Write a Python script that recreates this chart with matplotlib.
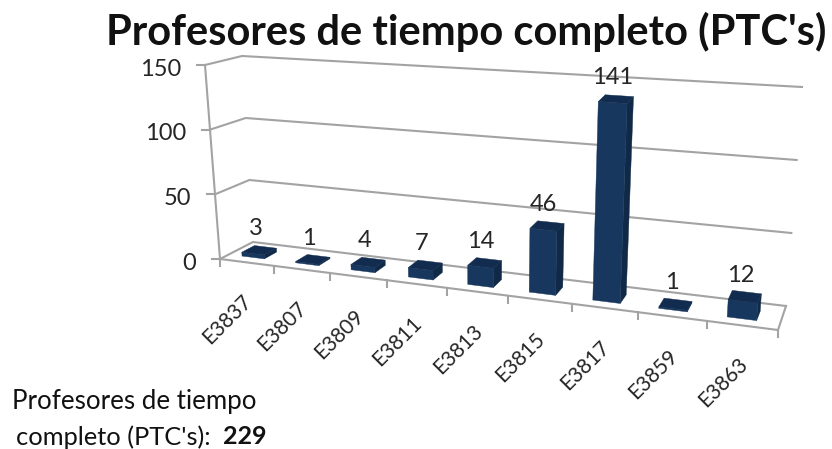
"""Skewed 3D-look column chart of full-time professors per school code."""

import matplotlib
matplotlib.use("Agg")
import matplotlib.pyplot as plt
import numpy as np
from matplotlib.patches import Polygon

# ---------------------------------------------------------------------------
# Data
# ---------------------------------------------------------------------------

CODES = ["E3837", "E3807", "E3809", "E3811", "E3813", "E3815", "E3817", "E3859", "E3863"]
VALUES = [3, 1, 4, 7, 14, 46, 141, 1, 12]
Y_TICKS = [0, 50, 100, 150]
TITLE = "Profesores de tiempo completo (PTC's)"
NOTE_1 = "Profesores de tiempo"
NOTE_2 = "completo (PTC's):"
NOTE_TOTAL = "229"

# ---------------------------------------------------------------------------
# Style / projection
# ---------------------------------------------------------------------------

W, H = 832, 449
Y_MAX = 150
FONT = "Lato"
GRID = "#a3a3a3"
FRONT = "#17375e"
SIDE = "#0f2947"
TOP = "#122c4f"
TEXT = "#262626"

# box corners on screen: (left/right, floor/top, front/back)
CORNERS = {
    (0, 0, 0): (220, 259), (0, 1, 0): (205, 65),
    (0, 0, 1): (253, 242), (0, 1, 1): (242, 56),
    (1, 0, 0): (778, 330), (1, 1, 0): (794, 108),
    (1, 0, 1): (786, 306), (1, 1, 1): (802, 87),
}
PERSPECTIVE = 1.17
BAR_SPAN = (0.25, 0.67)
DEPTH_SPAN = (0.27, 0.66)


def project(cat, value, depth):
    """Category position, value and depth (0 front, 1 back) to pixels."""
    t = cat / len(CODES)
    u = t / (PERSPECTIVE - (PERSPECTIVE - 1) * t)
    v = value / Y_MAX
    out = np.zeros(2)
    for (a, b, c), xy in CORNERS.items():
        weight = (u if a else 1 - u) * (v if b else 1 - v) * (depth if c else 1 - depth)
        out += weight * np.array(xy, dtype=float)
    return out


def draw_frame(ax):
    n = len(CODES)
    for tick in Y_TICKS:
        pts = [project(0, tick, 0), project(0, tick, 1), project(n, tick, 1)]
        ax.plot(*zip(*pts), color=GRID, lw=1.5, zorder=1)
        x0, y0 = project(0, tick, 0)
        ax.plot([x0 - 8, x0], [y0, y0], color=GRID, lw=1.5, zorder=1)
        ax.text(x0 - 24, y0 + 4, str(tick), ha="right", va="center",
                fontsize=17, color=TEXT, family=FONT)
    ax.plot(*zip(project(0, 0, 0), project(0, Y_MAX, 0)), color=GRID, lw=1.5, zorder=1)
    floor = [project(0, 0, 0), project(n, 0, 0), project(n, 0, 1)]
    ax.plot(*zip(*floor), color=GRID, lw=1.5, zorder=1)
    for i in range(0, n + 1):
        x0, y0 = project(i, 0, 0)
        ax.plot([x0, x0], [y0, y0 + 7], color=GRID, lw=1.5, zorder=1)


def draw_bars(ax):
    d0, d1 = DEPTH_SPAN
    for i, (code, value) in enumerate(zip(CODES, VALUES)):
        c0, c1 = i + BAR_SPAN[0], i + BAR_SPAN[1]
        front = [project(c0, 0, d0), project(c1, 0, d0), project(c1, value, d0), project(c0, value, d0)]
        side = [project(c1, 0, d0), project(c1, 0, d1), project(c1, value, d1), project(c1, value, d0)]
        top = [project(c0, value, d0), project(c1, value, d0), project(c1, value, d1), project(c0, value, d1)]
        z = 3 + i
        ax.add_patch(Polygon(side, color=SIDE, lw=0.3, zorder=z))
        ax.add_patch(Polygon(front, color=FRONT, lw=0.3, zorder=z))
        ax.add_patch(Polygon(top, color=TOP, lw=0.3, zorder=z))

        lx, ly = project(i + 0.5, value, 0.5)
        ax.text(lx - 7, ly - 21, str(value), ha="center", va="center",
                fontsize=17, color=TEXT, family=FONT, zorder=20)

        tx, ty = project(i + 0.5, 0, 0)
        ax.text(tx - 5, ty + 29, code, rotation=45, rotation_mode="anchor",
                ha="right", va="top", fontsize=15, color=TEXT, family=FONT)


def main():
    fig = plt.figure(figsize=(W / 100, H / 100), dpi=100)
    ax = fig.add_axes([0, 0, 1, 1])
    ax.set_xlim(0, W)
    ax.set_ylim(H, 0)
    ax.axis("off")

    draw_frame(ax)
    draw_bars(ax)

    ax.text(466, 32, TITLE, ha="center", va="center", fontsize=30,
            fontweight="bold", color="#111111", family=FONT)
    ax.text(12, 402, NOTE_1, ha="left", va="center", fontsize=18.6, color="#111111", family=FONT)
    ax.text(16, 437, NOTE_2, ha="left", va="center", fontsize=18.3, color="#111111", family=FONT)
    ax.text(223, 437, NOTE_TOTAL, ha="left", va="center", fontsize=18,
            fontweight="bold", color="#111111", family=FONT)

    fig.savefig("out.png", dpi=100)
    plt.close(fig)


if __name__ == "__main__":
    main()
